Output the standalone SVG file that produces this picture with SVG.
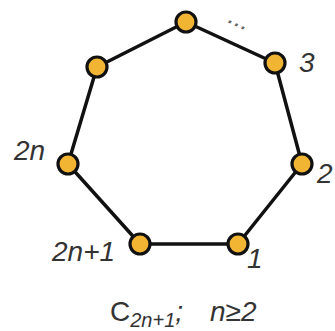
<svg xmlns="http://www.w3.org/2000/svg" width="335" height="331" viewBox="0 0 335 331">
<style>
.e{stroke:#111;stroke-width:3.5;fill:none;stroke-linecap:round}
.n{fill:#F2B533;stroke:#111;stroke-width:3.2}
.t{font-family:"Liberation Sans",Arial,sans-serif;font-style:italic;font-size:28px;fill:#333}
</style>
<rect width="335" height="331" fill="#fff"/>
<g id="edges">
<line class="e" x1="186" y1="22" x2="275" y2="63"/>
<line class="e" x1="275" y1="63" x2="302" y2="164"/>
<line class="e" x1="302" y1="164" x2="238" y2="244"/>
<line class="e" x1="238" y1="244" x2="140" y2="244"/>
<line class="e" x1="140" y1="244" x2="68" y2="164"/>
<line class="e" x1="68" y1="164" x2="97" y2="67"/>
<line class="e" x1="97" y1="67" x2="186" y2="22"/>
</g>
<g id="vtop"><circle class="n" cx="186" cy="22" r="10"/></g>
<g id="vul"><circle class="n" cx="97" cy="67" r="10"/></g>
<g id="v3"><circle class="n" cx="275" cy="63" r="10"/><text class="t" x="299" y="72">3</text></g>
<g id="v2"><circle class="n" cx="302" cy="164" r="10"/><text class="t" x="317" y="183">2</text></g>
<g id="v1"><circle class="n" cx="238" cy="244" r="10"/><text class="t" x="247" y="268">1</text></g>
<g id="v2n1"><circle class="n" cx="140" cy="244" r="10"/><text class="t" x="52" y="261">2n+1</text></g>
<g id="v2n"><circle class="n" cx="68" cy="164" r="10"/><text class="t" x="14" y="160">2n</text></g>
<text class="t" style="font-size:26px;fill:#666" transform="translate(227,22) rotate(25)">...</text>
<text class="t" x="110" y="321"><tspan style="font-style:normal">C</tspan><tspan style="font-size:20px" dy="6">2n+1</tspan><tspan dy="-6">;</tspan><tspan x="210">n≥2</tspan></text>
</svg>
